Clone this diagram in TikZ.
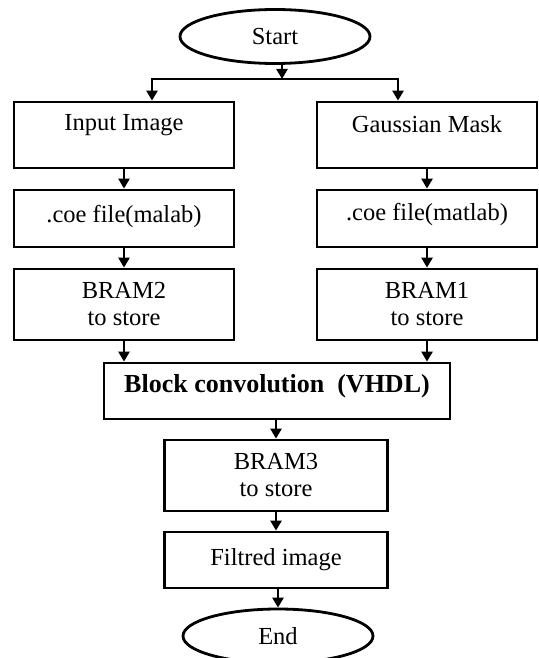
\documentclass[tikz,border=0pt]{standalone}
\usepackage{fontspec}
\setmainfont{Liberation Serif}
\usetikzlibrary{arrows.meta,shapes.geometric}
\begin{document}
\begin{tikzpicture}[x=1pt,y=-1pt,
  every node/.style={font=\fontsize{24.5}{27}\selectfont, text=black},
  flow/.style={draw, line width=2.8pt, rectangle, inner sep=0pt, align=center},
  term/.style={draw, line width=2.8pt, ellipse, inner sep=0pt,
               minimum width=190pt, minimum height=54pt},
  lbl/.style={draw=none, inner sep=0pt, align=center},
  conn/.style={line width=2.8pt, -{Triangle[length=10pt,width=11pt]}}]
\useasboundingbox (0,0) rectangle (538,658);
\clip (0,0) rectangle (538,658);

% terminals
\node[term] (start) at (275,36.5) {Start};
\node[term] (end) at (278,636) {End};

% left column
\node[flow, minimum width=220pt, minimum height=66pt] (inp) at (124,135) {};
\node[lbl, yshift=10pt] at (inp.center) {Input Image};
\node[flow, minimum width=220pt, minimum height=57pt] (coeL) at (124,218.5) {};
\node[lbl, yshift=2pt] at (coeL.center) {.coe file(malab)};
\node[flow, minimum width=220pt, minimum height=71pt] (bram2) at (124,304.5) {BRAM2\\to store};

% right column
\node[flow, minimum width=220pt, minimum height=66pt] (gau) at (427,135) {};
\node[lbl, yshift=11pt] at (gau.center) {Gaussian Mask};
\node[flow, minimum width=220pt, minimum height=57pt] (coeR) at (427,218.5) {};
\node[lbl, yshift=4pt] at (coeR.center) {.coe file(matlab)};
\node[flow, minimum width=220pt, minimum height=71pt] (bram1) at (427,304.5) {BRAM1\\to store};

% merged part
\node[flow, minimum width=346pt, minimum height=56pt] (conv) at (277,391) {};
\node[lbl, yshift=5pt, font=\fontsize{26}{28}\selectfont\bfseries] at (conv.center) {Block convolution\ \ (VHDL)};
\node[flow, minimum width=223pt, minimum height=71pt] (bram3) at (276,475.5) {BRAM3\\to store};
\node[flow, minimum width=223pt, minimum height=56pt] (filt) at (276,560) {Filtred image};

% split below the start
\coordinate (split) at (282,79);
\coordinate (splitL) at (152,79);
\coordinate (splitR) at (398,79);

% connectors
\draw[conn] (start.south -| split) -- (split);
\draw[conn] (split) -| (splitL |- inp.north);
\draw[conn] (split) -| (splitR |- gau.north);
\draw[conn] (inp) -- (coeL);
\draw[conn] (coeL) -- (bram2);
\draw[conn] (gau) -- (coeR);
\draw[conn] (coeR) -- (bram1);
\draw[conn] (bram2.south) -- (bram2.south |- conv.north);
\draw[conn] (bram1.south) -- (bram1.south |- conv.north);
\draw[conn] (conv.south -| bram3.north) -- (bram3.north);
\draw[conn] (bram3) -- (filt);
\draw[conn] (filt.south -| end.north) -- (end.north);
\end{tikzpicture}
\end{document}
